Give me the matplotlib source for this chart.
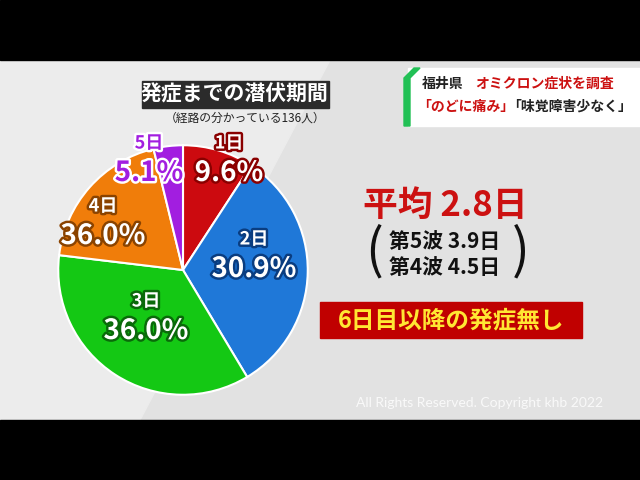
import numpy as np
import matplotlib.pyplot as plt
import matplotlib.patheffects as pe
from matplotlib.patches import Rectangle, Polygon

plt.rcParams['font.family'] = ['Noto Sans CJK JP', 'DejaVu Sans']

days = ["1日", "2日", "3日", "4日", "5日"]
pct_labels = ["9.6%", "30.9%", "36.0%", "36.0%", "5.1%"]
# wedge sizes as drawn on screen
sizes = [9.2, 32.2, 35.5, 19.3, 3.8]
colors = ["#cc0a0f", "#1f78d8", "#14c814", "#f07d0a", "#a21ee0"]
dark = ["#8a0000", "#0a3d80", "#0a6a0a", "#8a4300", "#ffffff"]
fill = ["white", "white", "white", "white", "#a21ee0"]
label_pos = [(229, 162), (254, 258), (146, 320), (103, 225), (149, 162)]

fig = plt.figure(figsize=(6.4, 4.8), dpi=100)

bg2 = fig.add_axes([0, 0, 1, 1], zorder=0)
bg2.set_xlim(0, 640); bg2.set_ylim(480, 0); bg2.axis("off")
bg2.add_patch(Rectangle((0, 60), 640, 360, color="#e2e2e2"))
bg2.add_patch(Polygon([(0, 60), (330, 60), (140, 420), (0, 420)], color="#ececec"))

# pie
cx, cy, r = 183, 270, 126
pax = fig.add_axes([(cx - r) / 640, (480 - cy - r) / 480, 2 * r / 640, 2 * r / 480], zorder=1)
pax.pie(sizes, colors=colors, startangle=90, counterclock=False,
        wedgeprops=dict(edgecolor="white", linewidth=1.5))
pax.set_xlim(-1.01, 1.01); pax.set_ylim(-1.01, 1.01)
pax.axis("off")

bg = fig.add_axes([0, 0, 1, 1], zorder=2)
bg.set_xlim(0, 640); bg.set_ylim(480, 0); bg.axis("off")
bg.patch.set_visible(False)
bg.add_patch(Rectangle((0, 0), 640, 60, color="black"))
bg.add_patch(Rectangle((0, 420), 640, 60, color="black"))

for d, p, f, k, (x, y) in zip(days, pct_labels, fill, dark, label_pos):
    st = [pe.withStroke(linewidth=3.5, foreground=k)]
    bg.text(x, y - 19, d, ha="center", va="center", fontsize=13, color=f,
            fontweight="bold", path_effects=st)
    bg.text(x, y + 11, p, ha="center", va="center", fontsize=20, color=f,
            fontweight="bold", path_effects=st)

# title box
bg.add_patch(Rectangle((142, 81), 187, 27, color="#2b2b2b"))
bg.text(235, 94.5, "発症までの潜伏期間", ha="center", va="center", fontsize=15,
        color="white", fontweight="bold")
bg.text(245, 118, "（経路の分かっている136人）", ha="center", va="center",
        fontsize=8.5, color="#222222")

# top right caption
bg.add_patch(Rectangle((408, 68), 232, 58, color="white"))
bg.add_patch(Polygon([(404, 126), (404, 78), (414, 68), (420, 68), (410, 78), (410, 126)],
                     color="#22c055"))
bg.text(422, 84, "福井県", ha="left", va="center", fontsize=10, color="#222222",
        fontweight="bold")
bg.text(475, 84, "オミクロン症状を調査", ha="left", va="center", fontsize=10,
        color="#cc1111", fontweight="bold")
bg.text(417, 107, "「のどに痛み」", ha="left", va="center", fontsize=10,
        color="#cc1111", fontweight="bold")
bg.text(507, 107, "「味覚障害少なく」", ha="left", va="center", fontsize=10,
        color="#222222", fontweight="bold")

# averages
bg.text(445, 205, "平均 2.8日", ha="center", va="center", fontsize=25,
        color="#cc1111", fontweight="bold")
bg.text(445, 241, "第5波 3.9日", ha="center", va="center", fontsize=15, color="#111111",
        fontweight="bold")
bg.text(445, 268, "第4波 4.5日", ha="center", va="center", fontsize=15, color="#111111",
        fontweight="bold")
bg.text(374, 252, "(", ha="center", va="center", fontsize=38, color="#111111")
bg.text(521, 252, ")", ha="center", va="center", fontsize=38, color="#111111")
bg.add_patch(Rectangle((320, 302), 262, 36, color="#c00000"))
bg.text(451, 320, "6日目以降の発症無し", ha="center", va="center", fontsize=17,
        color="#ffe733", fontweight="bold")

bg.text(480, 403, "All Rights Reserved. Copyright khb 2022", ha="center", va="center",
        fontsize=10, color="white", alpha=0.8, family=["Lato", "DejaVu Sans"])

fig.savefig("out.png", dpi=100)
